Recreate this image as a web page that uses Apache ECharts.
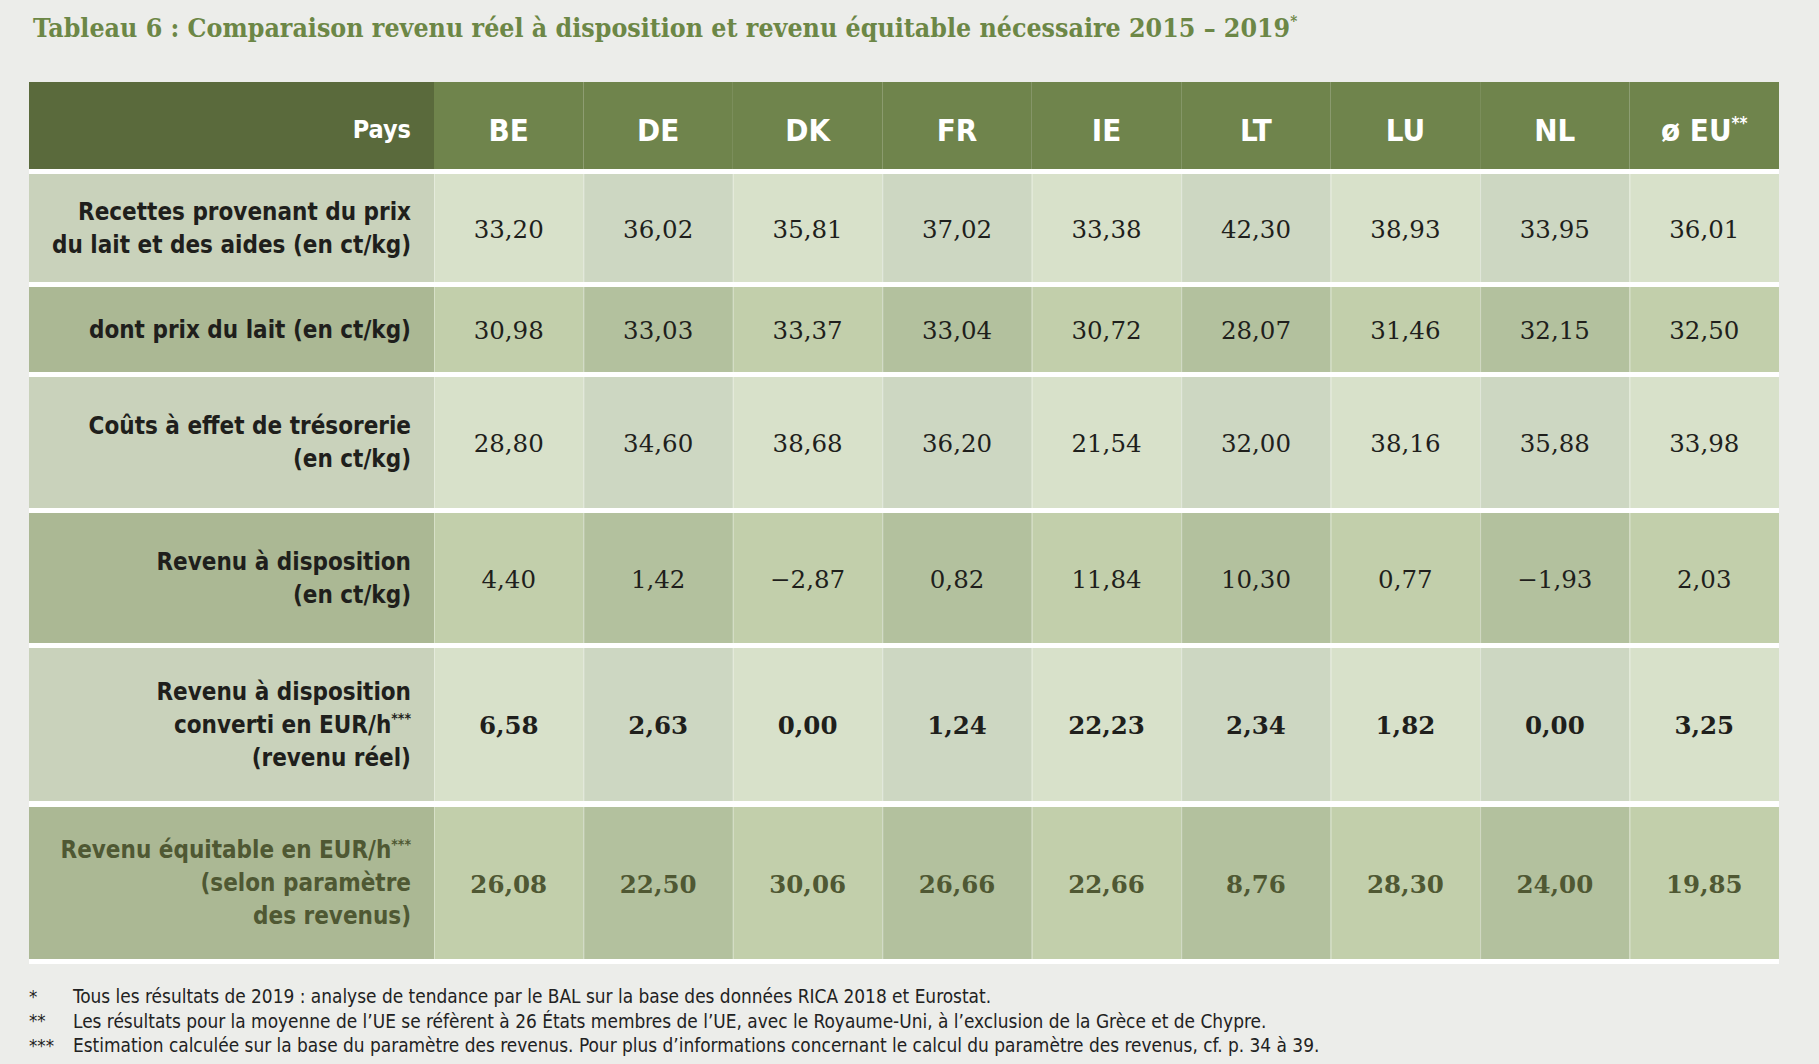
<!DOCTYPE html>
<html>
<head>
<meta charset="utf-8">
<title>Tableau 6</title>
<script src="https://cdn.jsdelivr.net/npm/echarts@6/dist/echarts.min.js"></script>
<style>
  html, body { margin: 0; padding: 0; background: #ecedea; }
  #chart { width: 1819px; height: 1064px; }
</style>
</head>
<body>
<div id="chart"></div>
<script>
// --- données du tableau ---
const countries = ['BE', 'DE', 'DK', 'FR', 'IE', 'LT', 'LU', 'NL', 'ø EU'];
const countryNotes = ['', '', '', '', '', '', '', '', '**'];
const headerLabel = 'Pays';
const rowLabels = [
  'Recettes provenant du prix\ndu lait et des aides (en ct/kg)',
  'dont prix du lait (en ct/kg)',
  'Coûts à effet de trésorerie\n(en ct/kg)',
  'Revenu à disposition\n(en ct/kg)',
  'Revenu à disposition\nconverti en EUR/h{sup|***}\n(revenu réel)',
  'Revenu équitable en EUR/h{sup|***}\n(selon paramètre\ndes revenus)'
];
const recettes = [33.20, 36.02, 35.81, 37.02, 33.38, 42.30, 38.93, 33.95, 36.01];
const prixLait = [30.98, 33.03, 33.37, 33.04, 30.72, 28.07, 31.46, 32.15, 32.50];
const couts = [28.80, 34.60, 38.68, 36.20, 21.54, 32.00, 38.16, 35.88, 33.98];
const revenuCtKg = [4.40, 1.42, -2.87, 0.82, 11.84, 10.30, 0.77, -1.93, 2.03];
const revenuReel = [6.58, 2.63, 0.00, 1.24, 22.23, 2.34, 1.82, 0.00, 3.25];
const revenuEquitable = [26.08, 22.50, 30.06, 26.66, 22.66, 8.76, 28.30, 24.00, 19.85];
const rowValues = [recettes, prixLait, couts, revenuCtKg, revenuReel, revenuEquitable];

const titleText = 'Tableau 6 : Comparaison revenu réel à disposition et revenu équitable nécessaire 2015 – 2019';
const footMarks = ['*', '**', '***'];
const footTexts = [
  'Tous les résultats de 2019 : analyse de tendance par le BAL sur la base des données RICA 2018 et Eurostat.',
  'Les résultats pour la moyenne de l’UE se réfèrent à 26 États membres de l’UE, avec le Royaume-Uni, à l’exclusion de la Grèce et de Chypre.',
  'Estimation calculée sur la base du paramètre des revenus. Pour plus d’informations concernant le calcul du paramètre des revenus, cf. p. 34 à 39.'
];

// --- mise en page ---
const LEFT = 29, LABEL_W = 405, BODY_W = 1345;
const bands = [
  { top: 82, height: 87 },   // en-tête
  { top: 174, height: 108 },
  { top: 287, height: 85 },
  { top: 377, height: 131 },
  { top: 513, height: 130 },
  { top: 648, height: 153 },
  { top: 807, height: 152 }
];
const SANS = "'DejaVu Sans Condensed', 'Liberation Sans Narrow', sans-serif";
const SERIF = "'DejaVu Serif', 'Liberation Serif', serif";
const TITLE_FONT = "'DejaVu Serif Condensed', 'DejaVu Serif', serif";
const lightRow = { label: '#c9d2bb', odd: '#d8e1ca', even: '#cdd7c2' };
const darkRow = { label: '#abb894', odd: '#c2cfab', even: '#b3c19e' };
const olive = '#4f5833';

const fmt = v => (v < 0 ? '−' : '') + Math.abs(v).toFixed(2).replace('.', ',');

const grids = [], xAxes = [], yAxes = [], series = [];

function addGrid(left, width, band, xData, key) {
  grids.push({ left: left, width: width, top: band.top, height: band.height, containLabel: false });
  const gi = grids.length - 1;
  xAxes.push({ type: 'category', gridIndex: gi, data: xData, show: false });
  yAxes.push({ type: 'category', gridIndex: gi, data: [key], show: false });
  return gi;
}

function cellRect(api) {
  const c = api.coord([api.value(0), 0]);
  const s = api.size([1, 1]);
  return { x: c[0] - s[0] / 2, y: c[1] - s[1] / 2, width: s[0], height: s[1] };
}

// en-tête
{
  const gl = addGrid(LEFT, LABEL_W, bands[0], ['label'], 'header');
  series.push({
    type: 'custom', xAxisIndex: gl, yAxisIndex: gl, silent: true,
    data: [[0, 0, headerLabel]],
    renderItem: (params, api) => ({
      type: 'rect', shape: cellRect(api), style: { fill: '#5a6a3c' },
      textContent: { style: { text: headerLabel, fill: '#ffffff', fontFamily: SANS, fontWeight: 'bold', fontSize: 25 } },
      textConfig: { position: 'insideRight', distance: 23, offset: [0, 4] }
    })
  });
  const gv = addGrid(LEFT + LABEL_W, BODY_W, bands[0], countries, 'header');
  series.push({
    type: 'custom', xAxisIndex: gv, yAxisIndex: gv, silent: true,
    data: countries.map((c, j) => [j, 0]),
    renderItem: (params, api) => {
      const j = params.dataIndex;
      const note = countryNotes[j] ? '{sup|' + countryNotes[j] + '}' : '';
      return {
        type: 'rect', shape: cellRect(api), style: { fill: '#6f844c' },
        textContent: {
          style: {
            text: '{h|' + countries[j] + '}' + note,
            rich: {
              h: { fill: '#ffffff', fontFamily: SANS, fontWeight: 'bold', fontSize: 31, lineHeight: 30 },
              sup: { fill: '#ffffff', fontFamily: SANS, fontWeight: 'bold', fontSize: 17, lineHeight: 30, verticalAlign: 'top' }
            }
          }
        },
        textConfig: { position: 'inside', offset: [0, 4] }
      };
    }
  });
}

// lignes du tableau
rowValues.forEach((vals, r) => {
  const band = bands[r + 1];
  const pal = r % 2 === 0 ? lightRow : darkRow;
  const last = r === rowValues.length - 1;
  const bold = r >= 4;
  const txtColor = last ? olive : '#1f1f1c';
  const key = 'row' + r;

  const gl = addGrid(LEFT, LABEL_W, band, ['label'], key);
  series.push({
    type: 'custom', xAxisIndex: gl, yAxisIndex: gl, silent: true,
    data: [[0, 0]],
    renderItem: (params, api) => ({
      type: 'rect', shape: cellRect(api), style: { fill: pal.label },
      textContent: {
        style: {
          text: rowLabels[r], align: 'right', fill: txtColor,
          fontFamily: SANS, fontWeight: 'bold', fontSize: 24, lineHeight: 33,
          rich: {
            sup: { fill: txtColor, fontFamily: SANS, fontWeight: 'bold', fontSize: 14, lineHeight: 33, verticalAlign: 'top', padding: [3, 0, 0, 0] }
          }
        }
      },
      textConfig: { position: 'insideRight', distance: 23 }
    })
  });

  const gv = addGrid(LEFT + LABEL_W, BODY_W, band, countries, key);
  series.push({
    type: 'custom', xAxisIndex: gv, yAxisIndex: gv, silent: true,
    data: vals.map((v, j) => [j, 0, v]),
    renderItem: (params, api) => {
      const j = api.value(0);
      const rect = cellRect(api);
      return {
        type: 'group',
        children: [
          {
            type: 'rect', shape: rect, style: { fill: j % 2 === 0 ? pal.odd : pal.even },
            textContent: {
              style: {
                text: fmt(api.value(2)), fill: txtColor, fontFamily: SERIF,
                fontWeight: bold ? 'bold' : 'normal', fontSize: 24.5
              }
            },
            textConfig: { position: 'inside', offset: [0, 1] }
          },
          {
            type: 'line',
            shape: { x1: rect.x + 0.5, y1: rect.y, x2: rect.x + 0.5, y2: rect.y + rect.height },
            style: { stroke: 'rgba(255,255,255,0.35)', lineWidth: 1 }
          }
        ]
      };
    }
  });
});

// notes de bas de page
const graphics = [
  { type: 'rect', z: -10, shape: { x: LEFT, y: 169, width: LABEL_W + BODY_W, height: 795 }, style: { fill: '#ffffff' } }
];
footTexts.forEach((t, i) => {
  const y = 996 + i * 24.5;
  graphics.push({ type: 'text', x: LEFT, y: y, style: { text: footMarks[i], fill: '#222222', fontFamily: SANS, fontSize: 18.5, verticalAlign: 'middle' } });
  graphics.push({ type: 'text', x: 73, y: y, style: { text: t, fill: '#222222', fontFamily: SANS, fontSize: 18.9, verticalAlign: 'middle' } });
});

const chart = echarts.init(document.getElementById('chart'), null, { renderer: 'svg' });
chart.setOption({
  backgroundColor: '#ecedea',
  animation: false,
  title: {
    text: titleText + '{sup|*}',
    left: LEFT - 1, top: 8,
    textStyle: {
      fontFamily: TITLE_FONT, fontWeight: 'bold', fontSize: 26.5, color: '#6c8746',
      rich: {
        sup: { fontFamily: TITLE_FONT, fontWeight: 'bold', fontSize: 15, color: '#6c8746', verticalAlign: 'top', lineHeight: 28 }
      }
    }
  },
  grid: grids,
  xAxis: xAxes,
  yAxis: yAxes,
  series: series,
  graphic: graphics
});
window.addEventListener('resize', () => chart.resize());
</script>
</body>
</html>
